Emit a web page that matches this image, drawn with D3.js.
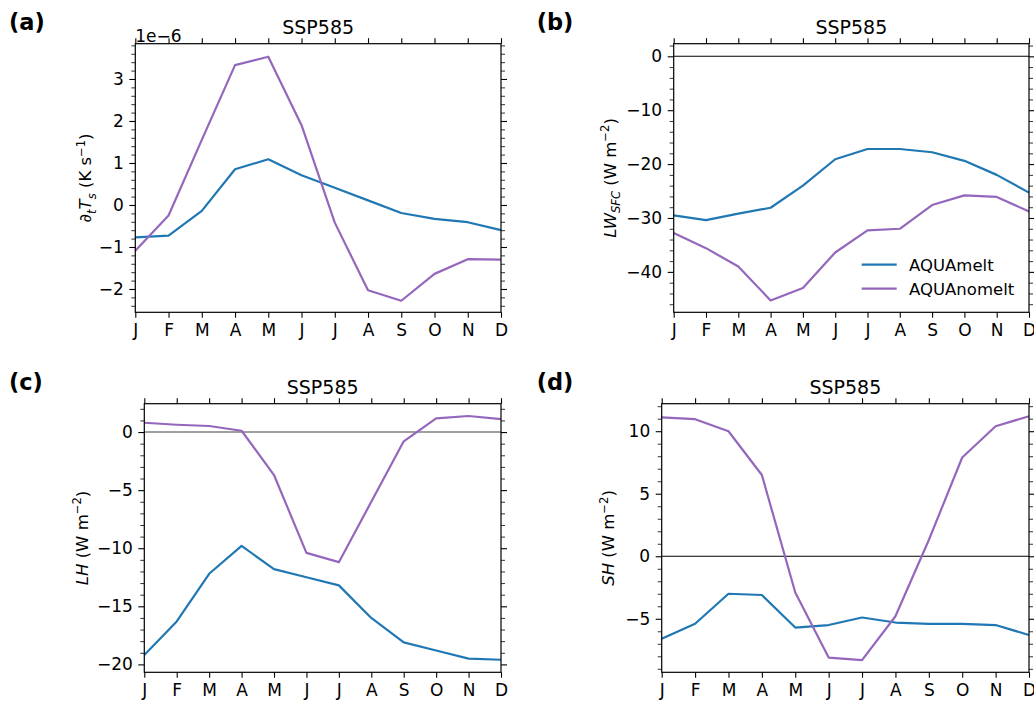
<!DOCTYPE html>
<html>
<head>
<meta charset="utf-8">
<script src="https://cdn.jsdelivr.net/npm/d3@7"></script>
<style>
  body { margin: 0; background: #fff; }
  text { font-family: "DejaVu Sans", sans-serif; fill: #000; }
</style>
</head>
<body>
<svg id="fig" width="1034" height="705"></svg>
<script>
// Monthly climatologies, SSP585
const months = ["J", "F", "M", "A", "M", "J", "J", "A", "S", "O", "N", "D"];
const seriesNames = ["AQUAmelt", "AQUAnomelt"];
const seriesColors = ["#1f77b4", "#9467bd"];

// (a) surface temperature tendency, units of 1e-6 K s^-1
const dTs_melt   = [-0.77, -0.73, -0.14, 0.85, 1.09, 0.71, 0.41, 0.11, -0.19, -0.33, -0.41, -0.60];
const dTs_nomelt = [-1.09, -0.25, 1.55, 3.33, 3.53, 1.90, -0.42, -2.03, -2.28, -1.64, -1.29, -1.30];

// (b) net surface longwave, W m^-2
const lw_melt   = [-29.5, -30.4, -29.2, -28.1, -24.0, -19.1, -17.2, -17.2, -17.8, -19.4, -22.0, -25.3];
const lw_nomelt = [-32.8, -35.6, -39.0, -45.3, -43.0, -36.4, -32.3, -32.0, -27.6, -25.8, -26.1, -28.8];

// (c) latent heat flux, W m^-2
const lh_melt   = [-19.2, -16.3, -12.2, -9.8, -11.8, -12.5, -13.2, -16.0, -18.1, -18.8, -19.5, -19.6];
const lh_nomelt = [0.80, 0.63, 0.52, 0.11, -3.7, -10.4, -11.2, -6.0, -0.8, 1.18, 1.38, 1.12];

// (d) sensible heat flux, W m^-2
const sh_melt   = [-6.6, -5.4, -3.0, -3.1, -5.7, -5.5, -4.9, -5.3, -5.4, -5.4, -5.5, -6.3];
const sh_nomelt = [11.1, 10.96, 10.0, 6.5, -2.9, -8.1, -8.3, -4.8, 1.3, 7.9, 10.4, 11.2];

// y-axis limits and tick layout per panel
const yDomA = [-2.555, 3.84], yTicksA = [-2, -1, 0, 1, 2, 3];
const yDomB = [-47.5, 2.34],  yTicksB = [-40, -30, -20, -10, 0];
const yDomC = [-20.68, 2.44], yTicksC = [-20, -15, -10, -5, 0];
const yDomD = [-9.28, 12.2],  yTicksD = [-5, 0, 5, 10];

const svg = d3.select("#fig");
const FS = 16.5;      // label / legend size
const TFS = 17;       // tick label size

const panels = [
  { tag: "(a)", tagX: 9, tagY: 30, box: { l: 135.3, r: 501, t: 43.7, b: 312.3 },
    dom: yDomA, ticks: yTicksA, minor: 0.2, data: [dTs_melt, dTs_nomelt], zero: null,
    labelX: 85.5, offsetText: "1e\u22126",
    label: [{ t: "\u2202" }, { t: "t", s: "sub", i: true }, { t: "T", i: true }, { t: "s", s: "sub", i: true },
            { t: " (K s" }, { t: "\u22121", s: "sup" }, { t: ")" }] },
  { tag: "(b)", tagX: 536.7, tagY: 30, box: { l: 673.7, r: 1029, t: 43.7, b: 312.3 },
    dom: yDomB, ticks: yTicksB, minor: 2, data: [lw_melt, lw_nomelt],
    zero: { color: "#000", width: 1.1 }, labelX: 610, legend: true,
    label: [{ t: "LW", i: true }, { t: "SFC", s: "sub", i: true }, { t: " (W m" }, { t: "\u22122", s: "sup" }, { t: ")" }] },
  { tag: "(c)", tagX: 9, tagY: 390, box: { l: 144.3, r: 501, t: 403.7, b: 672.3 },
    dom: yDomC, ticks: yTicksC, minor: 1, data: [lh_melt, lh_nomelt],
    zero: { color: "#808080", width: 1.6 }, labelX: 82,
    label: [{ t: "LH", i: true }, { t: " (W m" }, { t: "\u22122", s: "sup" }, { t: ")" }] },
  { tag: "(d)", tagX: 536.7, tagY: 390, box: { l: 661.7, r: 1029, t: 403.7, b: 672.3 },
    dom: yDomD, ticks: yTicksD, minor: 1, data: [sh_melt, sh_nomelt],
    zero: { color: "#000", width: 1.1 }, labelX: 608.5,
    label: [{ t: "SH", i: true }, { t: " (W m" }, { t: "\u22122", s: "sup" }, { t: ")" }] }
];

const fmt = d => (d < 0 ? "\u2212" : "") + Math.abs(d);

panels.forEach(p => {
  const { l, r, t, b } = p.box;
  const x = d3.scaleLinear().domain([0, months.length - 1]).range([l, r]);
  const y = d3.scaleLinear().domain(p.dom).range([b, t]);
  const g = svg.append("g");

  // panel tag
  svg.append("text").attr("x", p.tagX).attr("y", p.tagY)
    .style("font-size", "22.5px").style("font-weight", "bold").text(p.tag);

  // title
  g.append("text").attr("x", (l + r) / 2).attr("y", t - 9.3)
    .attr("text-anchor", "middle").style("font-size", "19px").text("SSP585");

  // zero reference line
  if (p.zero) {
    g.append("line").attr("x1", l).attr("x2", r).attr("y1", y(0)).attr("y2", y(0))
      .attr("stroke", p.zero.color).attr("stroke-width", p.zero.width);
  }

  // data lines
  const line = d3.line().x((d, i) => x(i)).y(d => y(d));
  p.data.forEach((arr, k) => {
    g.append("path").datum(arr).attr("d", line)
      .attr("fill", "none").attr("stroke", seriesColors[k])
      .attr("stroke-width", 2.2).attr("stroke-linejoin", "round").attr("stroke-linecap", "butt");
  });

  // minor tick values
  const lo = p.dom[0], hi = p.dom[1];
  const minorVals = d3.range(Math.ceil(lo / p.minor - 1e-9), Math.floor(hi / p.minor + 1e-9) + 1)
    .map(i => +(i * p.minor).toFixed(6))
    .filter(v => !p.ticks.some(m => Math.abs(m - v) < 1e-9));

  const monthIdx = d3.range(months.length);
  const styleAxis = sel => {
    sel.select(".domain").remove();
    sel.selectAll(".tick line").attr("stroke", "#000").attr("stroke-width", 1.1);
    sel.selectAll(".tick text").style("font-size", TFS + "px").style("font-family", "DejaVu Sans, sans-serif");
  };

  // bottom: month labels
  g.append("g").attr("transform", `translate(0,${b})`)
    .call(d3.axisBottom(x).tickValues(monthIdx).tickFormat(i => months[i]).tickSize(5.5).tickPadding(6))
    .call(styleAxis);
  // top: month ticks only
  g.append("g").attr("transform", `translate(0,${t})`)
    .call(d3.axisTop(x).tickValues(monthIdx).tickFormat("").tickSize(5.5))
    .call(styleAxis);
  // left: major + minor
  g.append("g").attr("transform", `translate(${l},0)`)
    .call(d3.axisLeft(y).tickValues(p.ticks).tickFormat(fmt).tickSize(6).tickPadding(5.5))
    .call(styleAxis);
  g.append("g").attr("transform", `translate(${l},0)`)
    .call(d3.axisLeft(y).tickValues(minorVals).tickFormat("").tickSize(4))
    .call(styleAxis).selectAll(".tick line").attr("stroke-width", 0.8);
  // right: major + minor, no labels
  g.append("g").attr("transform", `translate(${r},0)`)
    .call(d3.axisRight(y).tickValues(p.ticks).tickFormat("").tickSize(6))
    .call(styleAxis);
  g.append("g").attr("transform", `translate(${r},0)`)
    .call(d3.axisRight(y).tickValues(minorVals).tickFormat("").tickSize(4))
    .call(styleAxis).selectAll(".tick line").attr("stroke-width", 0.8);

  // frame
  g.append("rect").attr("x", l).attr("y", t).attr("width", r - l).attr("height", b - t)
    .attr("fill", "none").attr("stroke", "#000").attr("stroke-width", 1.2);

  // offset multiplier text
  if (p.offsetText) {
    g.append("text").attr("x", l).attr("y", t - 1.5).style("font-size", TFS + "px").text(p.offsetText);
  }

  // y-axis label with sub/superscripts
  const cy = (t + b) / 2;
  const lab = g.append("text")
    .attr("transform", `translate(${p.labelX + FS * 0.36},${cy}) rotate(-90)`)
    .attr("text-anchor", "middle").style("font-size", FS + "px");
  let shift = 0;
  p.label.forEach(seg => {
    const target = seg.s === "sub" ? FS * 0.25 : seg.s === "sup" ? -FS * 0.42 : 0;
    lab.append("tspan")
      .attr("dy", target - shift)
      .style("font-size", seg.s ? (FS * 0.7) + "px" : FS + "px")
      .style("font-style", seg.i ? "italic" : "normal")
      .text(seg.t);
    shift = target;
  });

  // legend
  if (p.legend) {
    const lx0 = 861.7, lx1 = 896.7, ly = [264.7, 288.7];
    seriesNames.forEach((name, k) => {
      g.append("line").attr("x1", lx0).attr("x2", lx1).attr("y1", ly[k]).attr("y2", ly[k])
        .attr("stroke", seriesColors[k]).attr("stroke-width", 2.2);
      g.append("text").attr("x", 909).attr("y", ly[k] + FS * 0.36)
        .style("font-size", FS + "px").text(name);
    });
  }
});
</script>
</body>
</html>
